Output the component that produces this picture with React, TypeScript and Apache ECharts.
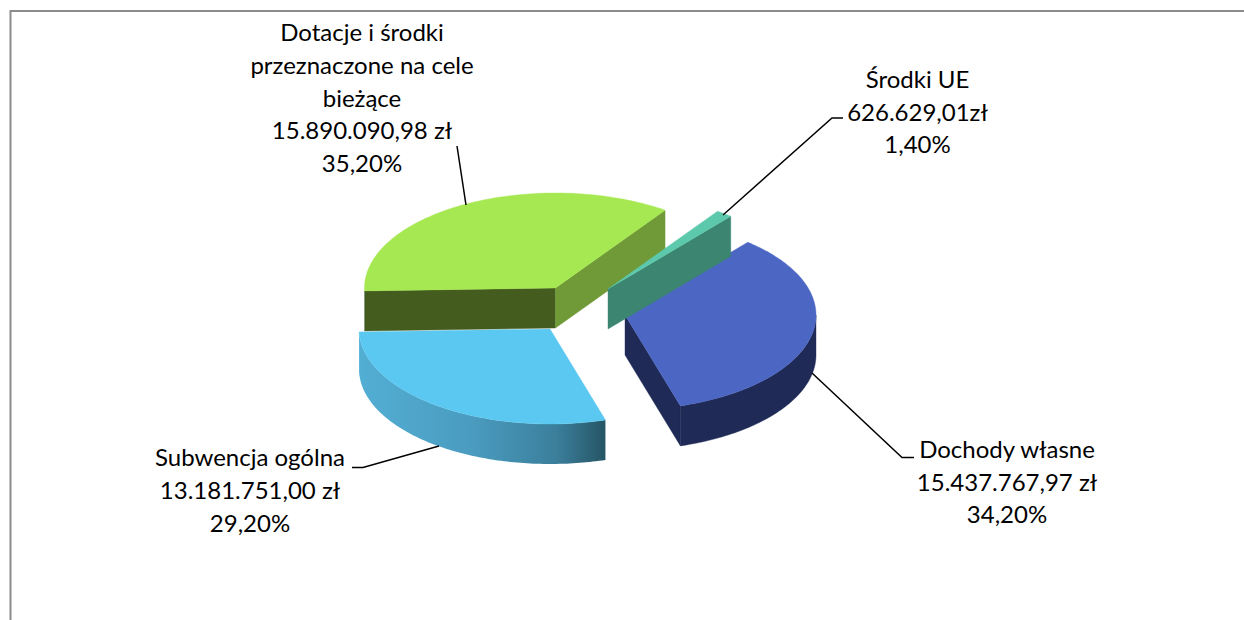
import React, { useEffect, useRef } from "react";
import * as echarts from "echarts";

const categories = ["Dochody własne", "Subwencja ogólna", "Dotacje i środki\nprzeznaczone na cele\nbieżące", "Środki UE"];
const amounts = [15437767.97, 13181751.0, 15890090.98, 626629.01];
const amountLabels = ["15.437.767,97 zł", "13.181.751,00 zł", "15.890.090,98 zł", "626.629,01zł"];
const percentLabels = ["34,20%", "29,20%", "35,20%", "1,40%"];

const topColors = ["#4c66c4", "#5ac8f0", "#a6e851", "#5cc9ac"];
const wallColors = ["#1f2a57", null, null, null];
const startFaceColors = ["#1f2a57", "#4a9cc0", "#445c1e", "#3b8571"];
const endFaceColors = ["#1f2a57", "#4a9cc0", "#6f9a37", "#3b8571"];
const drawOrder = [2, 1, 3, 4];

const START_DEG = -50;
const RX = 191;
const RY = 95;
const DEPTH = 40;
const PIE_X = 590;
const PIE_Y = 310;
const explode = [[35, 5], [-40, 19], [-34.5, -22], [18, -21]];
const FONT = "Lato";
const FONT_SIZE = 24;
const LINE_H = 32.7;

const labelPos = [[1007, 481], [250, 489.5], [362, 97], [917.5, 111]];
const leaders = [
  [[914, 457.5], [902, 457.5], [812, 373]],
  [[352, 467.5], [363, 467.5], [439, 446]],
  [[457, 146], [466, 205]],
  [[843, 118], [832, 118], [723, 215]],
];

const total = amounts.reduce((a, b) => a + b, 0);

function renderItem(params: any, api: any) {
  const i = params.dataIndex;
  const value = api.value(0);
  const before = amounts.slice(0, i).reduce((a, b) => a + b, 0);
  const t0 = START_DEG + (before / total) * 360;
  const t1 = t0 + (value / total) * 360;
  const cx = PIE_X + explode[i][0];
  const cy = PIE_Y + explode[i][1];
  const pt = (deg: number, dy = 0) => {
    const r = (deg * Math.PI) / 180;
    return [cx + RX * Math.cos(r), cy + RY * Math.sin(r) + dy];
  };
  const arc = (a: number, b: number, dy = 0) => {
    const n = Math.max(2, Math.ceil(Math.abs(b - a)));
    const out: number[][] = [];
    for (let k = 0; k <= n; k++) out.push(pt(a + ((b - a) * k) / n, dy));
    return out;
  };
  const sinD = (d: number) => Math.sin((d * Math.PI) / 180);
  const children: any[] = [];
  const poly = (points: number[][], fill: any, z2: number) => {
    children.push({
      type: "polygon",
      z2: drawOrder[i] * 10 + z2,
      shape: { points },
      style: { fill, stroke: typeof fill === "string" ? fill : undefined, lineWidth: typeof fill === "string" ? 0.4 : 0 },
    });
  };
  // cut faces
  if (sinD(t0 - 90) > 0) {
    poly([[cx, cy], pt(t0), pt(t0, DEPTH), [cx, cy + DEPTH]], startFaceColors[i], 1);
  }
  if (sinD(t1 + 90) > 0) {
    poly([[cx, cy], pt(t1), pt(t1, DEPTH), [cx, cy + DEPTH]], endFaceColors[i], 2);
  }
  // outer wall: only the front half of the rim is visible
  const a = Math.max(t0, 0);
  const b = Math.min(t1, 180);
  if (b > a) {
    const fill =
      wallColors[i] ||
      new echarts.graphic.LinearGradient(0, 0, 1, 0, [
        { offset: 0, color: "#53aed4" },
        { offset: 0.45, color: "#4a9cc0" },
        { offset: 0.8, color: "#3b7f9c" },
        { offset: 1, color: "#265565" },
      ]);
    poly([...arc(a, b), ...arc(b, a, DEPTH)], fill, 3);
  }
  // top surface
  poly([[cx, cy], ...arc(t0, t1)], topColors[i], 4);
  return { type: "group", children };
}

export default function App() {
  const ref = useRef<HTMLDivElement>(null);
  useEffect(() => {
    const chart = echarts.init(ref.current!, undefined, { renderer: "svg" });
    const labelGraphics = categories.map((name, i) => ({
      type: "text",
      x: labelPos[i][0],
      y: labelPos[i][1],
      z: 5,
      style: {
        text: `${name}\n${amountLabels[i]}\n${percentLabels[i]}`,
        fontFamily: FONT,
        fontSize: FONT_SIZE,
        lineHeight: LINE_H,
        fill: "#000000",
        align: "center",
        verticalAlign: "middle",
      },
    }));
    const leaderGraphics = leaders.map((points) => ({
      type: "polyline",
      z: 4,
      shape: { points },
      style: { stroke: "#000000", lineWidth: 1.5, fill: "none" },
    }));
    chart.setOption({
      animation: false,
      backgroundColor: "#ffffff",
      series: [
        {
          type: "custom",
          coordinateSystem: "none",
          silent: true,
          clip: false,
          renderItem,
          data: amounts.map((v, i) => ({ name: categories[i], value: [v] })),
        },
      ],
      graphic: [
        {
          type: "polyline",
          z: 3,
          shape: { points: [[10.5, 620], [10.5, 11], [1244, 11]] },
          style: { stroke: "#8c8c8c", lineWidth: 2, fill: "none" },
        },
        ...leaderGraphics,
        ...labelGraphics,
      ],
    });
    return () => chart.dispose();
  }, []);
  return <div ref={ref} style={{ position: "absolute", left: 0, top: 0, width: 1244, height: 620 }} />;
}
